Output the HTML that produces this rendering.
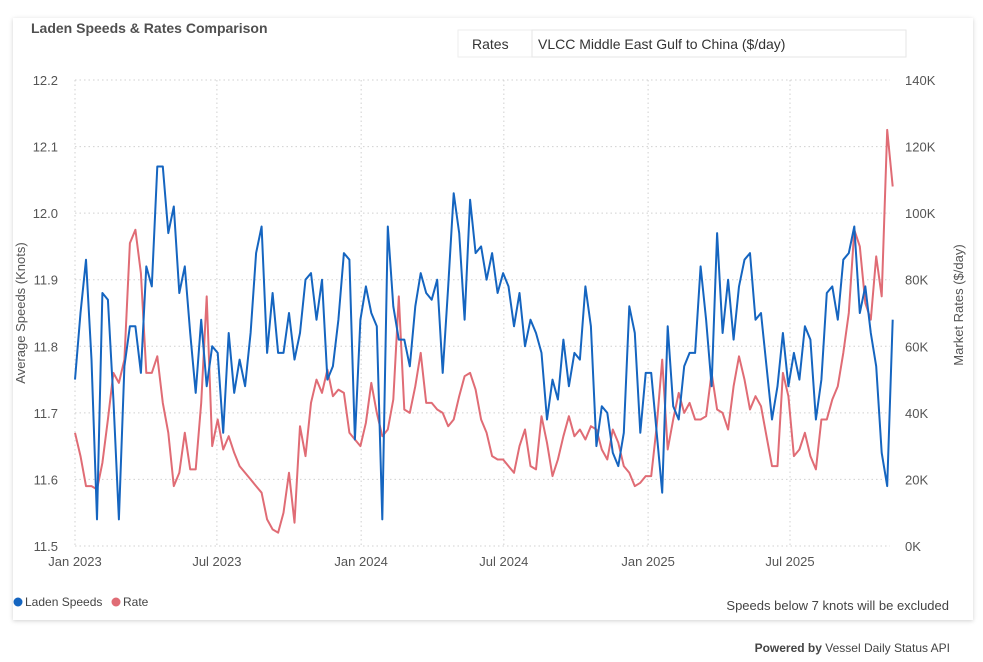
<!DOCTYPE html>
<html><head><meta charset="utf-8"><style>
body{margin:0;background:#fff;font-family:"Liberation Sans",sans-serif;}
#wrap{position:relative;width:983px;height:662px;overflow:hidden;}
</style></head><body>
<div id="wrap">
<svg id="svg" width="983" height="662" xmlns="http://www.w3.org/2000/svg">
<defs><filter id="sh" x="-5%" y="-5%" width="110%" height="110%"><feDropShadow dx="0" dy="1" stdDeviation="2" flood-color="#000" flood-opacity="0.18"/></filter></defs>
<rect x="13" y="18" width="960" height="602" fill="#fff" filter="url(#sh)"/>
<text x="31" y="33" font-size="14" font-weight="bold" fill="#505050">Laden Speeds &amp; Rates Comparison</text>
<rect x="458" y="30" width="448" height="27" fill="#fff" stroke="#eeeeee"/>
<text x="472" y="49" font-size="14" fill="#333">Rates</text>
<rect x="532" y="30" width="374" height="27" fill="#fff" stroke="#e6e6e6"/>
<text x="538" y="49" font-size="14" fill="#333">VLCC Middle East Gulf to China ($/day)</text>
<g id="grid"></g>
<g id="axes"></g>
<g id="series"></g>
<text transform="translate(25,313) rotate(-90)" text-anchor="middle" font-size="13" fill="#555">Average Speeds (Knots)</text>
<text transform="translate(963,305) rotate(-90)" text-anchor="middle" font-size="13" fill="#555">Market Rates ($/day)</text>
<g>
<circle cx="18" cy="602" r="4.5" fill="#1565c0"/>
<text x="25" y="606" font-size="12" fill="#444">Laden Speeds</text>
<circle cx="116" cy="602" r="4.5" fill="#e06c75"/>
<text x="123" y="606" font-size="12" fill="#444">Rate</text>
</g>
<text x="949" y="610" text-anchor="end" font-size="13" fill="#444">Speeds below 7 knots will be excluded</text>
<text x="950" y="652" text-anchor="end" font-size="12" fill="#444"><tspan font-weight="bold">Powered by</tspan> Vessel Daily Status API</text>
</svg>
</div>
<script>
const leftTicks=[11.5,11.6,11.7,11.8,11.9,12.0,12.1,12.2];
const rightTicks=["0K","20K","40K","60K","80K","100K","120K","140K"];
const xLabels=["Jan 2023","Jul 2023","Jan 2024","Jul 2024","Jan 2025","Jul 2025"];
const xLabelDays=[0,181,365,547,731,912];
const speeds=[11.75,11.85,11.93,11.78,11.54,11.88,11.87,11.72,11.54,11.77,11.83,11.83,11.76,11.92,11.89,12.07,12.07,11.97,12.01,11.88,11.92,11.82,11.73,11.84,11.74,11.80,11.79,11.67,11.82,11.73,11.78,11.74,11.82,11.94,11.98,11.79,11.88,11.79,
11.79,11.85,11.78,11.82,11.90,11.91,11.84,11.90,11.75,11.77,11.84,11.94,11.93,11.66,11.84,11.89,11.85,11.83,11.54,11.98,11.86,11.81,11.81,11.77,11.86,11.91,11.88,11.87,11.90,11.76,11.89,12.03,11.97,11.84,12.02,11.94,11.95,
11.90,11.94,11.88,11.91,11.89,11.83,11.88,11.80,11.84,11.82,11.79,11.69,11.75,11.72,11.81,11.74,11.79,11.78,11.89,11.83,11.65,11.71,11.70,11.64,11.62,11.67,11.86,11.82,11.67,11.76,11.76,11.67,11.58,11.83,11.71,11.69,11.77,11.79,
11.79,11.92,11.84,11.74,11.97,11.82,11.90,11.81,11.89,11.93,11.94,11.84,11.85,11.77,11.69,11.74,11.82,11.74,11.79,11.75,11.83,11.81,11.69,11.75,11.88,11.89,11.84,11.93,11.94,11.98,11.85,11.89,11.82,11.77,11.64,11.59,11.84];
const rates=[34,27,18,18,17,25,38,52,49,56,91,95,82,52,52,57,43,34,18,22,34,23,23,43,75,30,38,29,33,28,24,22,20,18,16,8,5,4,
10,22,7,36,27,43,50,46,53,45,47,46,34,32,30,37,49,40,33,35,44,75,41,40,48,58,43,43,41,40,36,38,45,51,52,47,38,
34,27,26,26,24,22,30,35,24,23,39,31,21,26,33,39,33,35,32,36,35,29,26,35,31,24,22,18,19,21,21,36,56,29,38,46,40,43,
38,38,39,52,41,40,35,48,57,50,41,45,42,33,24,24,52,45,27,29,34,27,23,38,38,44,48,58,70,95,90,73,68,87,75,125,108];
const stepDays=7;
const NS="http://www.w3.org/2000/svg";
const X0=75,PXD=(790-75)/912,YT=80,YB=546;
function xs(d){return X0+d*PXD;}
function yL(v){return YB-(v-11.5)/0.7*(YB-YT);}
function yR(v){return YB-v/140*(YB-YT);}
const grid=document.getElementById('grid'),axes=document.getElementById('axes'),ser=document.getElementById('series');
function mk(tag,attrs,parent){const e=document.createElementNS(NS,tag);for(const k in attrs)e.setAttribute(k,attrs[k]);parent.appendChild(e);return e;}
leftTicks.forEach((t,i)=>{
  const y=yL(t);
  const g=mk('line',{x1:X0,x2:890,y1:y,y2:y,stroke:'#d0d0d0','stroke-dasharray':'1.5 3'},grid);
  
  
  const l=mk('text',{x:58,y:y+5,'text-anchor':'end','font-size':13,fill:'#555'},axes);l.textContent=t.toFixed(1);
  
  
  const r=mk('text',{x:905,y:y+5,'font-size':13,fill:'#555'},axes);r.textContent=rightTicks[i];
  
  
});
xLabels.forEach((lab,i)=>{
  const x=xs(xLabelDays[i]);
  const g=mk('line',{x1:x,x2:x,y1:YT,y2:YB,stroke:'#d0d0d0','stroke-dasharray':'1.5 3'},grid);
  
  
  const t=mk('text',{x:x,y:566,'text-anchor':'middle','font-size':13,fill:'#555'},axes);t.textContent=lab;
  
  
});
function path(arr,yf,color,name){
  const d=arr.map((v,i)=>(i?'L':'M')+xs(i*stepDays).toFixed(1)+' '+yf(v).toFixed(1)).join(' ');
  const p=mk('path',{d:d,fill:'none',stroke:color,'stroke-width':2,'stroke-linejoin':'round'},ser);
  
  
}
path(rates,yR,'#e06c75','rate-line');
path(speeds,yL,'#1565c0','laden-speeds-line');
</script>
</body></html>
